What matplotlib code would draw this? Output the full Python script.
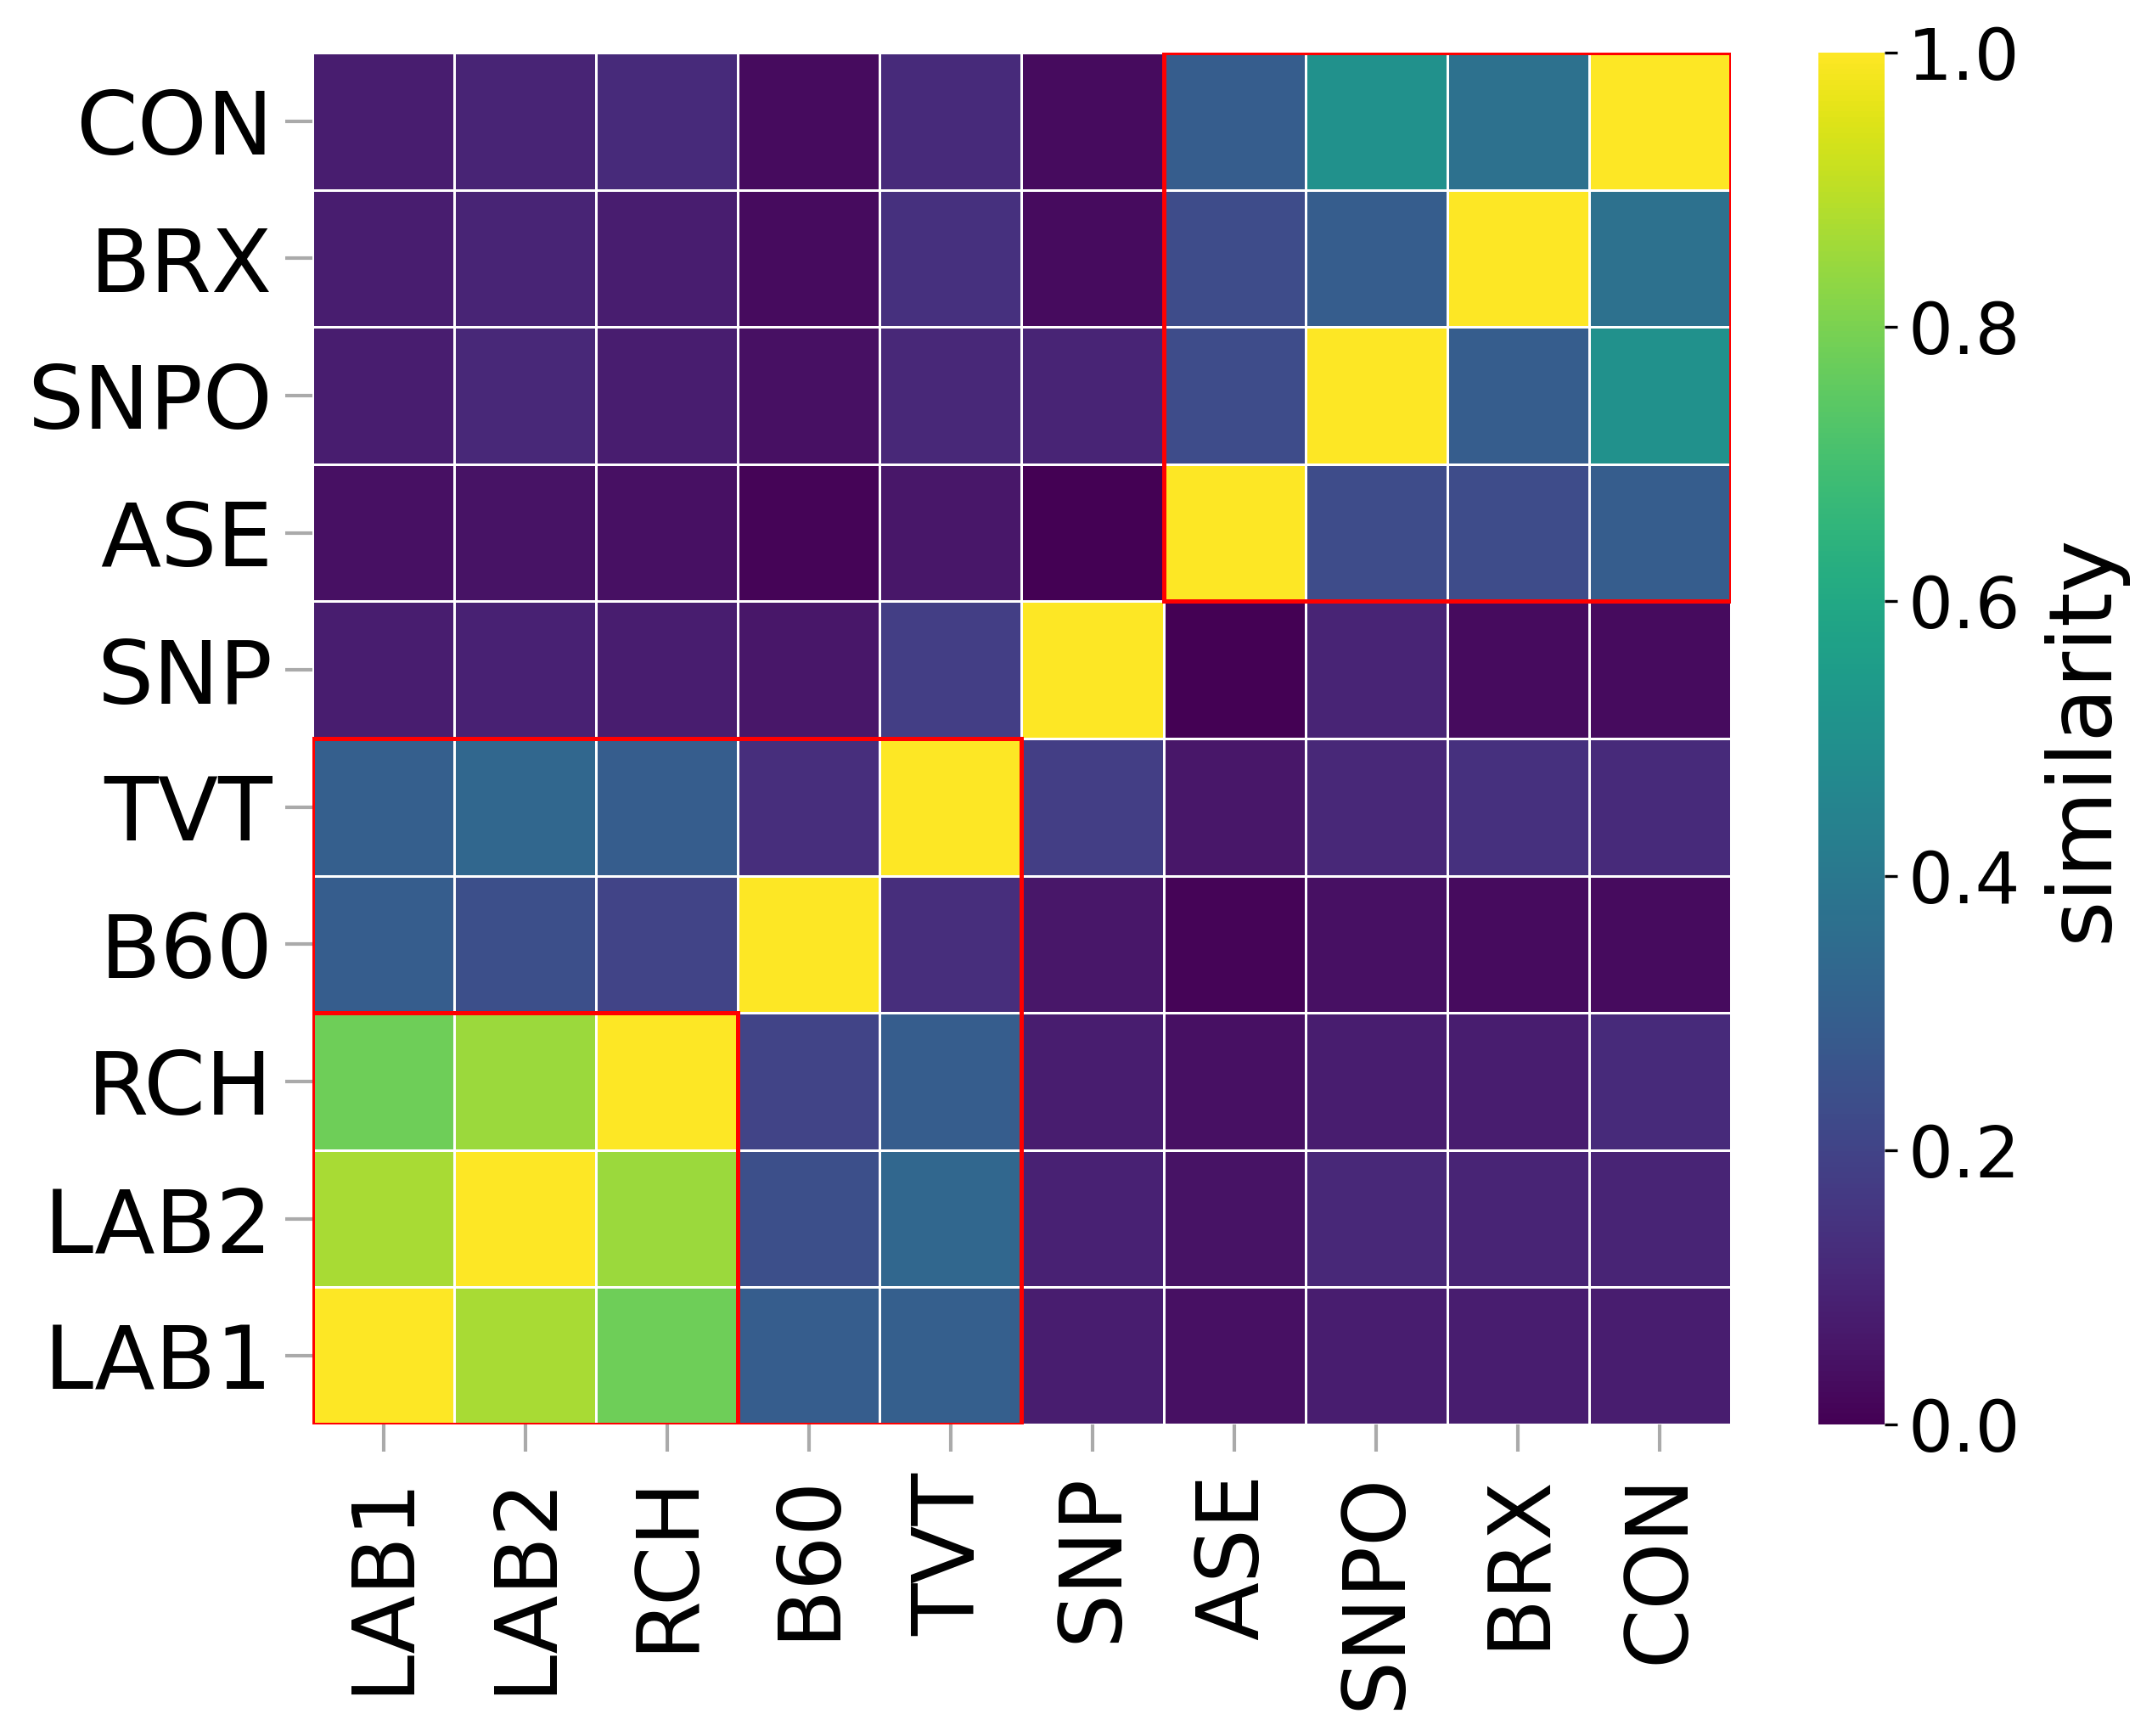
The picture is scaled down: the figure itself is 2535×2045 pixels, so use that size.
import matplotlib
matplotlib.use("Agg")
import matplotlib.pyplot as plt
from matplotlib.patches import Rectangle
import numpy as np

# labels (row 0 = bottom, col 0 = left)
labels = ["LAB1", "LAB2", "RCH", "B60", "TVT", "SNP", "ASE", "SNPO", "BRX", "CON"]

# similarity values
similarity = [
    [1.00, 0.87, 0.78, 0.29, 0.30, 0.08, 0.04, 0.08, 0.08, 0.08],
    [0.87, 1.00, 0.85, 0.24, 0.33, 0.09, 0.05, 0.11, 0.10, 0.10],
    [0.78, 0.85, 1.00, 0.20, 0.29, 0.08, 0.04, 0.08, 0.08, 0.12],
    [0.29, 0.24, 0.20, 1.00, 0.13, 0.06, 0.01, 0.04, 0.03, 0.03],
    [0.30, 0.33, 0.29, 0.13, 1.00, 0.18, 0.06, 0.11, 0.14, 0.12],
    [0.08, 0.09, 0.08, 0.06, 0.18, 1.00, 0.00, 0.10, 0.03, 0.03],
    [0.04, 0.05, 0.04, 0.01, 0.06, 0.00, 1.00, 0.23, 0.23, 0.29],
    [0.08, 0.11, 0.08, 0.04, 0.11, 0.10, 0.23, 1.00, 0.29, 0.50],
    [0.08, 0.10, 0.08, 0.03, 0.14, 0.03, 0.23, 0.29, 1.00, 0.37],
    [0.08, 0.10, 0.12, 0.03, 0.12, 0.03, 0.29, 0.50, 0.37, 1.00],
]

# highlighted clusters: (first index, size)
clusters = [(0, 3), (0, 5), (6, 4)]

fig = plt.figure(figsize=(2535 / 300, 2045 / 300), dpi=300)
ax = fig.add_axes([0.1452, 0.1795, 0.6591, 0.7902])
cax = fig.add_axes([0.845, 0.1795, 0.0308, 0.7902])

mesh = ax.pcolormesh(np.array(similarity), cmap="viridis", vmin=0, vmax=1,
                     edgecolors="white", linewidth=0.25)

for start, size in clusters:
    ax.add_patch(Rectangle((start, start), size, size, fill=False,
                           edgecolor="#ff0000", linewidth=1.2))

n = len(labels)
ax.set_xlim(0, n)
ax.set_ylim(0, n)
ax.set_xticks(np.arange(n) + 0.5)
ax.set_yticks(np.arange(n) + 0.5)
ax.set_xticklabels(labels, rotation=90, fontsize=24.2)
ax.set_yticklabels(labels, fontsize=25)
ax.tick_params(axis="both", length=7.7, width=1.0, color="#aaaaaa")
ax.tick_params(axis="x", pad=6)
ax.tick_params(axis="y", pad=3.5)
for s in ax.spines.values():
    s.set_visible(False)

cbar = fig.colorbar(mesh, cax=cax, ticks=[0, 0.2, 0.4, 0.6, 0.8, 1.0])
cbar.outline.set_visible(False)
cbar.ax.set_yticklabels(["0.0", "0.2", "0.4", "0.6", "0.8", "1.0"])
cbar.ax.tick_params(labelsize=20, length=3.5, width=0.8, pad=3)
cbar.set_label("similarity", fontsize=25)
cbar.ax.yaxis.set_label_coords(3.34, 0.5)

fig.savefig("out.png", dpi=300)
